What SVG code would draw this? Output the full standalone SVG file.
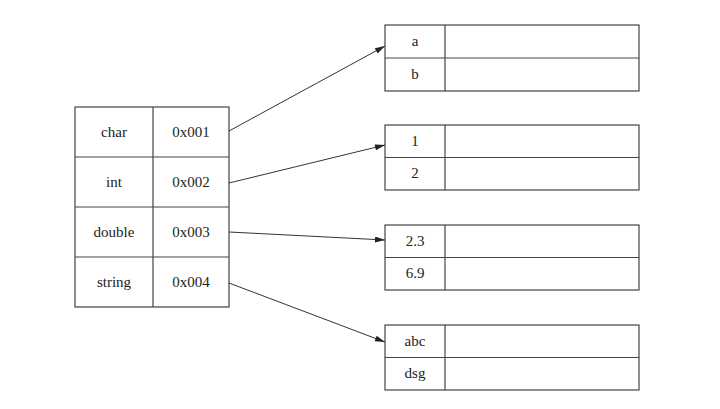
<svg xmlns="http://www.w3.org/2000/svg" width="720" height="409" viewBox="0 0 720 409">
<style>
.box{fill:#fff;stroke:#444;stroke-width:1.2}
.ln{stroke:#444;stroke-width:1.2;fill:none}
text{font-family:'Liberation Serif','Times New Roman',serif;font-size:15px;fill:#222;text-anchor:middle}
.c{stroke:#333;stroke-width:1;fill:none;marker-end:url(#ah)}
</style>
<defs>
<marker id="ah" viewBox="0 0 10 6" refX="10" refY="3" markerWidth="15" markerHeight="6" markerUnits="userSpaceOnUse" orient="auto">
<path d="M0,0 L10,3 L0,6 z" fill="#222"/>
</marker>
</defs>
<rect width="720" height="409" fill="#fff"/>
<g id="table">
<rect class="box" x="75" y="107" width="154" height="200"/>
<line class="ln" x1="153" y1="107" x2="153" y2="307"/>
<line class="ln" x1="75" y1="157" x2="229" y2="157"/>
<line class="ln" x1="75" y1="207" x2="229" y2="207"/>
<line class="ln" x1="75" y1="257" x2="229" y2="257"/>
<text x="114" y="137">char</text><text x="191" y="137">0x001</text>
<text x="114" y="187">int</text><text x="191" y="187">0x002</text>
<text x="114" y="237">double</text><text x="191" y="237">0x003</text>
<text x="114" y="287">string</text><text x="191" y="287">0x004</text>
</g>
<g id="box1">
<rect class="box" x="385" y="25" width="254" height="66"/>
<line class="ln" x1="445" y1="25" x2="445" y2="91"/>
<line class="ln" x1="385" y1="58" x2="639" y2="58"/>
<text x="415" y="46">a</text><text x="415" y="79">b</text>
</g>
<g id="box2">
<rect class="box" x="385" y="125" width="254" height="65"/>
<line class="ln" x1="445" y1="125" x2="445" y2="190"/>
<line class="ln" x1="385" y1="157.5" x2="639" y2="157.5"/>
<text x="415" y="146">1</text><text x="415" y="178">2</text>
</g>
<g id="box3">
<rect class="box" x="385" y="225" width="254" height="65"/>
<line class="ln" x1="445" y1="225" x2="445" y2="290"/>
<line class="ln" x1="385" y1="257.5" x2="639" y2="257.5"/>
<text x="415" y="246">2.3</text><text x="415" y="278">6.9</text>
</g>
<g id="box4">
<rect class="box" x="385" y="325" width="254" height="65"/>
<line class="ln" x1="445" y1="325" x2="445" y2="390"/>
<line class="ln" x1="385" y1="357.5" x2="639" y2="357.5"/>
<text x="415" y="346">abc</text><text x="415" y="378">dsg</text>
</g>
<g id="connectors">
<line class="c" x1="229" y1="131" x2="385" y2="46"/>
<line class="c" x1="229" y1="183" x2="385" y2="145"/>
<line class="c" x1="229" y1="232" x2="385" y2="240"/>
<line class="c" x1="229" y1="283" x2="385" y2="342"/>
</g>
</svg>
